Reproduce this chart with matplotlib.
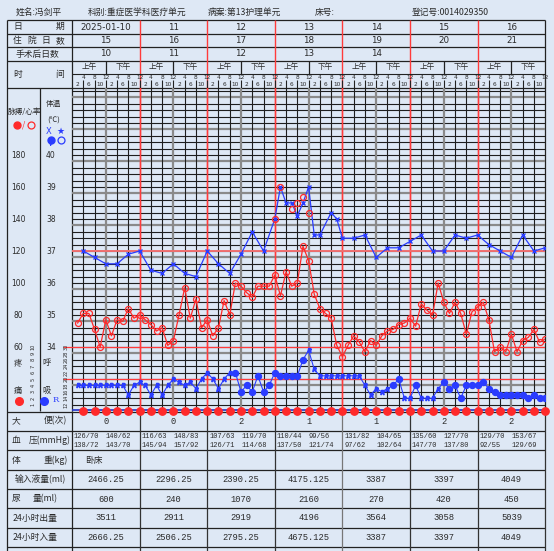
import matplotlib.pyplot as plt
import numpy as np

plt.rcParams['font.family'] = ['Noto Sans CJK SC', 'DejaVu Sans']

# ---- data ----
dates = ['2025-01-10', '11', '12', '13', '14', '15', '16']
hosp_days = ['15', '16', '17', '18', '19', '20', '21']
postop_days = ['10', '11', '12', '13', '14', '', '']

temp_hours = [4, 8, 12, 16, 20, 24, 28, 32, 36, 40, 44, 48, 52, 56, 60, 64, 68, 72,
              74, 76, 78, 80, 82, 84, 86, 88, 92, 94, 96, 100, 104, 108, 112, 116,
              120, 124, 128, 132, 136, 140, 144, 148, 152, 156, 160, 164, 168]
temp_vals = [37.0, 36.8, 36.6, 36.6, 36.9, 37.0, 36.4, 36.3, 36.6, 36.3, 36.2, 37.0,
             36.6, 36.3, 36.9, 37.6, 37.0, 38.0, 39.0, 38.5, 38.5, 38.1, 38.5, 39.0,
             37.5, 37.5, 38.2, 38.0, 37.4, 37.4, 37.5, 36.8, 37.1, 37.1, 37.3, 37.5,
             37.0, 37.0, 37.5, 37.4, 37.5, 37.2, 37.0, 36.8, 37.5, 37.0, 37.1]

# red circles drawn at the fever readings
circ_hours = [72, 74, 78, 80, 82, 84]
circ_vals = [38.0, 39.0, 38.3, 38.5, 38.7, 38.2]

pulse_hours = [2, 4, 6, 8, 10, 12, 14, 16, 18, 20, 22, 24, 26, 28, 30, 32, 34, 36, 38, 40,
               42, 44, 46, 48, 50, 52, 54, 56, 58, 60, 62, 64, 66, 68, 70, 72, 74, 76, 78, 80,
               82, 84, 86, 88, 90, 92, 94, 96, 98, 100, 102, 104, 106, 108, 110, 112, 114,
               116, 118, 120, 122, 124, 126, 128, 130, 132, 134, 136, 138, 140, 142, 144,
               146, 148, 150, 152, 154, 156, 158, 160, 162, 164, 166, 168]
pulse_vals = [75, 81, 81, 71, 60, 77, 67, 77, 76, 84, 78, 80, 77, 74, 70, 72, 61, 64, 80, 97,
              78, 90, 72, 77, 67, 72, 89, 80, 100, 98, 94, 91, 98, 98, 98, 105, 92, 107, 98, 100,
              123, 114, 93, 84, 81, 78, 61, 54, 61, 67, 63, 57, 64, 61, 67, 70, 71,
              74, 75, 78, 73, 87, 83, 80, 100, 88, 81, 88, 81, 68, 82, 85,
              88, 77, 57, 60, 57, 68, 57, 64, 66, 71, 63, 65]

resp_hours = pulse_hours
resp_vals = [18, 18, 18, 18, 18, 18, 18, 18, 18, 15, 18, 19, 18, 15, 18, 15, 18, 20, 19, 18,
             19, 17, 20, 22, 20, 17, 20, 22, 22, 16, 18, 16, 21, 16, 18, 22, 21, 21, 21, 21,
             26, 29, 23, 21, 21, 21, 21, 21, 21, 21, 21, 18, 15, 17, 16, 17, 18,
             20, 14, 14, 18, 14, 14, 14, 17, 19, 17, 18, 14, 18, 18, 18,
             19, 17, 16, 15, 15, 15, 15, 15, 14, 15, 14, 14]
# 1 = assisted (R), 0 = spontaneous (dot)
resp_assist = [1, 1, 1, 1, 1, 1, 1, 1, 1, 1, 1, 1, 1, 1, 1, 1, 1, 1, 1, 1,
               1, 1, 1, 1, 1, 1, 1, 1, 0, 0, 0, 0, 0, 0, 0, 0, 0, 0, 0, 0,
               0, 1, 1, 1, 1, 1, 1, 1, 1, 1, 1, 1, 1, 1, 1, 1, 0,
               0, 1, 1, 0, 1, 1, 1, 1, 0, 0, 0, 0, 0, 0, 0,
               0, 0, 0, 0, 0, 0, 0, 0, 0, 0, 0, 0]

pain_hours = [4, 8, 12, 16, 20, 24, 28, 32, 36, 40, 44, 48, 52, 56, 60, 64, 68, 72, 76, 80, 84,
              88, 92, 96, 100, 104, 108, 112, 116, 120, 124, 128, 132, 136, 140, 144, 148,
              152, 156, 160, 164, 168]
pain_vals = [0, 0, 0, 0, 0, 0, 0, 0, 0, 0, 0, 0, 0, 0, 0, 0, 0, 0, 0, 0, 0,
             0, 0, 0, 0, 0, 0, 0, 0, 0, 0, 0, 0, 0, 0, 0, 0, 0, 0, 0, 0, 0]

stool = ['0', '0', '2', '1', '1', '2', '2']
bp = [['126/70', '140/62', '138/72', '143/70'],
      ['116/63', '148/83', '145/94', '157/92'],
      ['107/63', '119/70', '126/71', '114/68'],
      ['110/44', '99/56', '137/50', '121/74'],
      ['131/82', '104/65', '97/62', '102/64'],
      ['135/60', '127/70', '147/70', '137/80'],
      ['129/70', '153/67', '92/55', '129/69']]
weight = ['卧床', '', '', '', '', '', '']
iv_in = ['2466.25', '2296.25', '2390.25', '4175.125', '3387', '3397', '4049']
urine = ['600', '240', '1070', '2160', '270', '420', '450']
out24 = ['3511', '2911', '2919', '4196', '3564', '3058', '5039']
in24 = ['2666.25', '2506.25', '2795.25', '4675.125', '3387', '3397', '4049']

# ---- layout (pixels) ----
W, H = 554, 551
BG = '#dee8f5'
INK = '#2a2a2a'
X0, DAYW = 72, 67.6
X1 = X0 + 7 * DAYW
GT, GB = 88, 411          # grid top / bottom
PXDEG = 32.0              # pixels per degree
T0 = 32.0                 # temperature at grid bottom
TTOP = T0 + (GB - GT) / PXDEG
BLUE = '#2a3cff'
RED = '#ff2a2a'

fig = plt.figure(figsize=(W / 100, H / 100), dpi=100)
fig.patch.set_facecolor(BG)
pix = fig.add_axes([0, 0, 1, 1])
pix.set_xlim(0, W)
pix.set_ylim(H, 0)
pix.axis('off')


def hl(y, x0, x1, c='#222222', lw=0.9):
    pix.plot([x0, x1], [y, y], color=c, lw=lw, solid_capstyle='butt')


def vl(x, y0, y1, c='#222222', lw=0.9):
    pix.plot([x, x], [y0, y1], color=c, lw=lw, solid_capstyle='butt')


def tx(x, y, s, fs=6.3, ha='center', c=INK, **kw):
    pix.text(x, y, s, fontsize=fs, ha=ha, va='center', color=c, **kw)


def dx(d):
    return X0 + d * DAYW


# top text
tx(16, 12.5, '姓名:冯剑平', ha='left')
tx(88, 12.5, '科别:重症医学科医疗单元', ha='left')
tx(208, 12.5, '病案:第13护理单元', ha='left')
tx(315, 12.5, '床号:', ha='left')
tx(412, 12.5, '登记号:0014029350', ha='left')

# header table
head_y = [20, 33.6, 47.3, 60.7, GT]
for y in head_y:
    hl(y, 7, X1)
vl(7, 20, 551)
vl(X1, 20, GB)
vl(X0, 20, GB)
for d in range(1, 7):
    vl(dx(d), 20, GB, c='#ff3b3b', lw=1.0)
hl(74, X0, X1, lw=0.8)

tx(18, 26.8, '日')
tx(60, 26.8, '期')
for i, ch in enumerate('住院日数'):
    tx(17 + i * 14.4, 40.5, ch)
tx(37, 54, '手术后日数')
tx(18, 74, '时')
tx(60, 74, '间')
for d in range(7):
    c = dx(d) + DAYW / 2
    tx(c, 27, dates[d], fs=6.3, family='DejaVu Sans')
    tx(c, 40.5, hosp_days[d], fs=6.3, family='DejaVu Sans')
    tx(c, 54, postop_days[d], fs=6.3, family='DejaVu Sans')
    tx(dx(d) + DAYW / 4, 67.3, '上午', fs=5.5)
    tx(dx(d) + 3 * DAYW / 4, 67.3, '下午', fs=5.5)
    vl(dx(d) + DAYW / 2, 60.7, 74, lw=0.9)
    for k, h in enumerate([2, 4, 6, 8, 10, 12, 2, 4, 6, 8, 10, 12]):
        xh = dx(d) + (k + 1) * DAYW / 12
        if k % 2 == 0:
            tx(xh, 84, str(h), fs=4.2, family='DejaVu Sans')
        else:
            tx(xh, 77.6, str(h), fs=4.2, family='DejaVu Sans')
            vl(xh, 80, GT, lw=0.8)

# left legend column
vl(40, GT, GB)
tx(24.5, 111.7, '脉搏/心率', fs=5.5)
pix.plot([17], [125], 'o', color=RED, ms=5)
tx(24, 125, '/', fs=6, c=RED)
pix.plot([31], [125], 'o', mfc='none', mec=RED, ms=5, mew=0.9)
for i, p in enumerate([180, 160, 140, 120, 100, 80, 60]):
    tx(18, 155 + i * PXDEG, str(p), fs=5.5, family='DejaVu Sans')
tx(17.5, 363, '疼', fs=6)
tx(17.5, 390, '痛', fs=6)
pix.plot([19], [401], 'o', color=RED, ms=5.5)
for v in range(10, 0, -1):
    tx(33.3, GB - v * 6.4, str(v), fs=3.6, rotation=90, family='DejaVu Sans')
tx(53.3, 104, '体温', fs=5.5)
tx(53.3, 120.5, '(℃)', fs=5.5)
tx(48.3, 131.5, 'X', fs=6, c=BLUE, family='DejaVu Sans')
tx(60, 131.5, '★', fs=6.5, c=BLUE, family='DejaVu Sans')
pix.plot([50.7], [140], 'o', color=BLUE, ms=5)
pix.annotate('', xy=(50.7, 149), xytext=(50.7, 142),
             arrowprops=dict(arrowstyle='-|>', color=BLUE, lw=0.6, mutation_scale=4))
pix.plot([61], [140], 'o', mfc='none', mec=BLUE, ms=5, mew=0.9)
for i, t in enumerate([40, 39, 38, 37, 36, 35, 34]):
    tx(51, 155 + i * PXDEG, str(t), fs=5.5, family='DejaVu Sans')
tx(46.7, 363, '呼', fs=6)
tx(46.7, 390, '吸', fs=6)
pix.plot([44.3], [401], 'o', color=BLUE, ms=5.5)
tx(56, 400, 'R', fs=6, c=BLUE, family='DejaVu Serif')
for r in range(30, 11, -2):
    tx(66, GB - (r - 10) * 3.2, str(r), fs=3.6, rotation=90, family='DejaVu Sans')
hl(GB - 20 * 3.2, 63, X0, c='#ff3b3b', lw=0.9)
hl(GB - 10 * 3.2, 63, X0, c='#ff3b3b', lw=0.9)

# bottom table
rows_y = [411.7, 431, 450, 470, 489, 508.3, 527.7, 546.7]
for y in rows_y:
    hl(y, 7, X1)
vl(X0, GB, 551)
for d in range(1, 8):
    vl(dx(d), GB, 551, c='#333333' if d != 4 else '#777777')
tx(16, 421, '大')
tx(55, 421, '便(次)')
tx(16, 440.5, '血')
tx(50, 440.5, '压(mmHg)')
tx(16, 460, '体')
tx(56, 460, '重(kg)')
tx(40, 479.5, '输入液量(ml)')
tx(16, 499, '尿')
tx(45, 499, '量(ml)')
tx(35.5, 518, '24小时出量')
tx(35.5, 537.3, '24小时入量')
mono = 'Liberation Mono'
for d in range(7):
    c = dx(d) + DAYW / 2
    tx(c, 421, stool[d], fs=6.3, family=mono)
    for k, s in enumerate(bp[d]):
        xx = dx(d) + 2 + (k % 2) * 32
        yy = 436.7 if k < 2 else 445.3
        tx(xx, yy, s, fs=5.0, ha='left', family=mono)
    tx(dx(d) + 21.5, 460, weight[d], fs=6.3)
    tx(c, 479.5, iv_in[d], fs=6.3, family=mono)
    tx(c, 499, urine[d], fs=6.3, family=mono)
    tx(c, 518, out24[d], fs=6.3, family=mono)
    tx(c, 537.3, in24[d], fs=6.3, family=mono)

# ---- chart area with data scales ----
rect = [X0 / W, 1 - GB / H, (X1 - X0) / W, (GB - GT) / H]
ax = fig.add_axes(rect)
ax.set_xlim(0, 168)
ax.set_ylim(T0, TTOP)
ax.patch.set_alpha(0)
for s in ax.spines.values():
    s.set_visible(False)
ax.set_xticks([])
ax.set_yticks([])

for i, t in enumerate(np.arange(T0, TTOP, 0.2)):
    heavy = (i % 5 == 4)
    ax.axhline(t, color='#8a8a8a' if heavy else '#1e1e1e', lw=1.6 if heavy else 0.8, zorder=1)
for h in range(4, 168, 4):
    if h % 24 == 0:
        continue
    ax.axvline(h, color='#8a8a8a' if h % 24 == 12 else '#1e1e1e',
               lw=1.6 if h % 24 == 12 else 0.8, zorder=1)
for h in range(24, 168, 24):
    ax.axvline(h, color='#ff3b3b', lw=1.0, zorder=2)
ax.axhline(37, color='#f07070', lw=1.4, zorder=2)
ax.axhline(34, color='#ff3b3b', lw=0.9, zorder=2)
ax.axhline(33, color='#ff3b3b', lw=0.9, zorder=2)
ax.axhline(T0 + 0.02, color='#2233cc', lw=1.2, zorder=3)

# pulse axis
axp = ax.twinx()
axp.set_ylim(20, 20 + 20 * (TTOP - T0))
axp.axis('off')
axp.plot(pulse_hours, pulse_vals, color=RED, lw=0.9, marker='o', ms=4.3,
         mfc='none', mec=RED, mew=0.9, zorder=4)

# temperature
ax.plot(temp_hours, temp_vals, color=BLUE, lw=0.9, marker='x', ms=3.5, mew=1.0, zorder=5)
ax.plot(circ_hours, circ_vals, ls='none', marker='o', ms=4.3, mfc='none', mec=RED,
        mew=0.9, zorder=6)

# respiration / pain axis
axr = ax.twinx()
axr.set_ylim(10, 10 + 10 * (TTOP - T0))
axr.axis('off')
axr.plot(resp_hours, resp_vals, color=BLUE, lw=0.8, zorder=4)
rh = np.array(resp_hours)
rv = np.array(resp_vals)
ra = np.array(resp_assist) == 1
axr.plot(rh[ra], rv[ra], ls='none', marker='$R$', ms=3.0, color=BLUE, zorder=5)
axr.plot(rh[~ra], rv[~ra], ls='none', marker='o', ms=4.3, color=BLUE, zorder=5)

axpain = ax.twinx()
axpain.set_ylim(0, 5 * (TTOP - T0))
axpain.axis('off')
axpain.plot(pain_hours, pain_vals, ls='none', marker='o', ms=5.3, color=RED,
            zorder=6, clip_on=False)

fig.savefig('out.png', dpi=100, facecolor=BG)
